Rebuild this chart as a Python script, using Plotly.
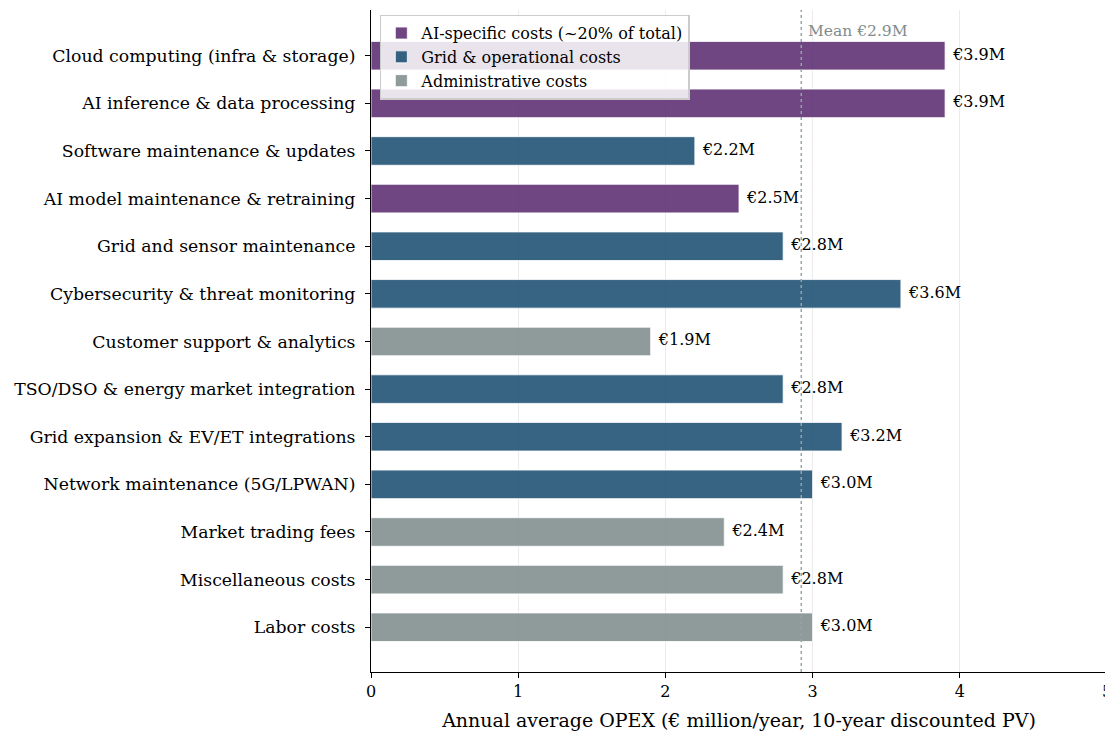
import plotly.graph_objects as go

categories = [
    "Cloud computing (infra & storage)",
    "AI inference & data processing",
    "Software maintenance & updates",
    "AI model maintenance & retraining",
    "Grid and sensor maintenance",
    "Cybersecurity & threat monitoring",
    "Customer support & analytics",
    "TSO/DSO & energy market integration",
    "Grid expansion & EV/ET integrations",
    "Network maintenance (5G/LPWAN)",
    "Market trading fees",
    "Miscellaneous costs",
    "Labor costs",
]
values = [3.9, 3.9, 2.2, 2.5, 2.8, 3.6, 1.9, 2.8, 3.2, 3.0, 2.4, 2.8, 3.0]
groups = ["AI", "AI", "Grid", "AI", "Grid", "Grid", "Admin", "Grid", "Grid", "Grid", "Admin", "Admin", "Admin"]
x_ticks = [0, 1, 2, 3, 4, 5]

group_names = {
    "AI": "AI-specific costs (~20% of total)",
    "Grid": "Grid & operational costs",
    "Admin": "Administrative costs",
}
group_colors = {
    "AI": "rgba(91,44,111,0.88)",
    "Grid": "rgba(27,79,114,0.88)",
    "Admin": "rgba(127,140,141,0.88)",
}

FONT = "DejaVu Serif"
mean_val = sum(values) / len(values)

fig = go.Figure()
for g in ["AI", "Grid", "Admin"]:
    xs = [v for v, gg in zip(values, groups) if gg == g]
    ys = [c for c, gg in zip(categories, groups) if gg == g]
    fig.add_trace(go.Bar(
        x=xs, y=ys, orientation="h", width=0.6, name=group_names[g],
        marker=dict(color=group_colors[g], line=dict(color="white", width=0.8)),
        hoverinfo="skip",
    ))

fig.add_trace(go.Scatter(
    x=[v + 0.055 for v in values], y=categories, mode="text",
    text=[f"€{v:.1f}M" for v in values], textposition="middle right",
    textfont=dict(family=FONT, size=16, color="black"),
    showlegend=False, hoverinfo="skip",
))

fig.add_shape(type="line", x0=mean_val, x1=mean_val, y0=0, y1=1, yref="paper",
              line=dict(color="#95a5a6", width=1.5, dash="dot"), layer="above")
fig.add_annotation(x=mean_val, y=1, yref="paper", xanchor="left", yanchor="top",
                   xshift=5, yshift=-10,
                   text=f"Mean €{mean_val:.1f}M", showarrow=False,
                   font=dict(family=FONT, size=15.5, color="#7f8c8d"))

# page body has an 8px default margin; compensate so the plot lands where the reference has it
fig.update_layout(
    width=1105, height=727,
    margin=dict(l=363, r=6, t=2, b=63),
    plot_bgcolor="white", paper_bgcolor="white",
    barmode="overlay",
    font=dict(family=FONT, size=16, color="black"),
    legend=dict(
        x=0.012, y=0.993, xanchor="left", yanchor="top",
        bgcolor="rgba(255,255,255,0.85)", bordercolor="#cccccc", borderwidth=1.5,
        font=dict(family=FONT, size=16), tracegroupgap=0,
        itemwidth=30,
    ),
    xaxis=dict(
        range=[0, 5], tickvals=x_ticks, automargin=False,
        showgrid=True, gridcolor="rgba(0,0,0,0.08)", gridwidth=1,
        showline=True, linecolor="black", linewidth=1.2,
        ticks="outside", ticklen=5, tickcolor="black",
        zeroline=False,
        title=dict(text="Annual average OPEX (€ million/year, 10-year discounted PV)",
                   font=dict(family=FONT, size=19), standoff=13),
        tickfont=dict(family=FONT, size=16),
    ),
    yaxis=dict(
        categoryorder="array", categoryarray=categories,
        autorange=False, range=[12.94, -0.96], automargin=False,
        showgrid=False, showline=True, linecolor="black", linewidth=1.2,
        ticks="outside", ticklen=5, tickcolor="black",
        tickfont=dict(family=FONT, size=17.3),
        ticklabelstandoff=6,
        zeroline=False,
    ),
)

fig.write_html("out.html")
